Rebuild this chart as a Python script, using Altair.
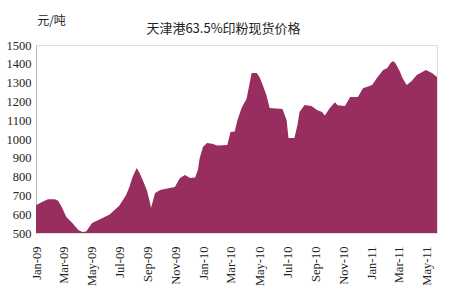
import altair as alt
import pandas as pd

dates = [
    "2009-01-01", "2009-01-14", "2009-01-27", "2009-02-11", "2009-02-18", "2009-02-26",
    "2009-03-08", "2009-03-21", "2009-04-03", "2009-04-12", "2009-04-20", "2009-05-03",
    "2009-05-18", "2009-06-10", "2009-07-01", "2009-07-16", "2009-07-23", "2009-07-30",
    "2009-08-08", "2009-08-14", "2009-08-21", "2009-08-30", "2009-09-06", "2009-09-08",
    "2009-09-17", "2009-09-28", "2009-10-19", "2009-10-30", "2009-11-10", "2009-11-21",
    "2009-12-02", "2009-12-13", "2009-12-19", "2009-12-23", "2009-12-30", "2010-01-08",
    "2010-01-19", "2010-01-30", "2010-02-21", "2010-02-28", "2010-03-09", "2010-03-15",
    "2010-03-24", "2010-04-04", "2010-04-10", "2010-04-15", "2010-04-26", "2010-05-02",
    "2010-05-09", "2010-05-17", "2010-05-24", "2010-06-21", "2010-06-30", "2010-07-04",
    "2010-07-17", "2010-07-24", "2010-07-28", "2010-08-08", "2010-08-23", "2010-09-04",
    "2010-09-15", "2010-09-21", "2010-10-02", "2010-10-13", "2010-10-19", "2010-11-04",
    "2010-11-15", "2010-12-02", "2010-12-13", "2011-01-02", "2011-01-13", "2011-01-26",
    "2011-02-04", "2011-02-11", "2011-02-17", "2011-02-22", "2011-03-03", "2011-03-09",
    "2011-03-18", "2011-03-29", "2011-04-09", "2011-04-29", "2011-05-12", "2011-05-23",
]
prices = [
    648, 665, 680, 680, 672, 638,
    585, 553, 516, 505, 508, 553,
    570, 598, 645, 702, 745, 798,
    846, 820, 782, 729, 660, 633,
    713, 729, 739, 745, 793, 808,
    793, 795, 835, 899, 957, 979,
    975, 965, 968, 1037, 1040, 1100,
    1165, 1215, 1290, 1351, 1351, 1330,
    1287, 1234, 1165, 1160, 1100, 1005,
    1005, 1080, 1144, 1181, 1176, 1154,
    1144, 1125, 1165, 1195, 1180, 1176,
    1223, 1223, 1270, 1287, 1327, 1367,
    1378, 1404, 1415, 1402, 1360, 1324,
    1287, 1309, 1340, 1367, 1351, 1330,
]
tick_months = [
    (2009, 1), (2009, 3), (2009, 5), (2009, 7), (2009, 9), (2009, 11),
    (2010, 1), (2010, 3), (2010, 5), (2010, 7), (2010, 9), (2010, 11),
    (2011, 1), (2011, 3), (2011, 5),
]
y_ticks = [500, 600, 700, 800, 900, 1000, 1100, 1200, 1300, 1400, 1500]

df = pd.DataFrame({"date": dates, "price": prices})

tick_values = [alt.DateTime(year=y, month=m, date=1, utc=True) for y, m in tick_months]

chart = (
    alt.Chart(df)
    .mark_area(color="#982E60", clip=True, interpolate="linear")
    .encode(
        x=alt.X(
            "date:T",
            scale=alt.Scale(type="utc", domain=[dates[0], dates[-1]], nice=False),
            axis=alt.Axis(
                values=tick_values,
                labelExpr="utcFormat(datum.value, '%b-%y')",
                labelAngle=270,
                labelAlign="right",
                labelBaseline="middle",
                labelFont="Liberation Serif",
                labelFontSize=12.5,
                labelColor="#222222",
                labelPadding=13,
                ticks=False,
                domain=False,
                grid=False,
                title=None,
                labelOverlap=False,
            ),
        ),
        y=alt.Y(
            "price:Q",
            scale=alt.Scale(domain=[500, 1500], zero=False, nice=False),
            axis=alt.Axis(
                values=y_ticks,
                format="d",
                labelFont="Liberation Serif",
                labelFontSize=12.5,
                labelColor="#222222",
                labelPadding=5,
                ticks=False,
                domainColor="#bbbbbb",
                grid=False,
                title="元/吨",
                titleAngle=0,
                titleX=15,
                titleY=-25,
                titleAlign="center",
                titleBaseline="middle",
                titleFont="Noto Sans CJK SC",
                titleFontSize=12,
                titleFontWeight="normal",
                titleColor="#222222",
            ),
        ),
    )
    .properties(
        width=401,
        height=188,
        autosize=alt.AutoSizeParams(type="none"),
        padding={"left": 36, "top": 45, "right": 13, "bottom": 67},
        title=alt.TitleParams(
            text="天津港63.5%印粉现货价格",
            font="Noto Sans CJK SC",
            fontSize=13,
            fontWeight="normal",
            color="#222222",
            anchor="middle",
            frame="group",
            dx=-13,
            dy=30,
            offset=8,
        ),
    )
    .configure_view(stroke=None)
    .configure(background="white")
)

chart.save("out.html", embed_options={"renderer": "svg", "actions": False})
